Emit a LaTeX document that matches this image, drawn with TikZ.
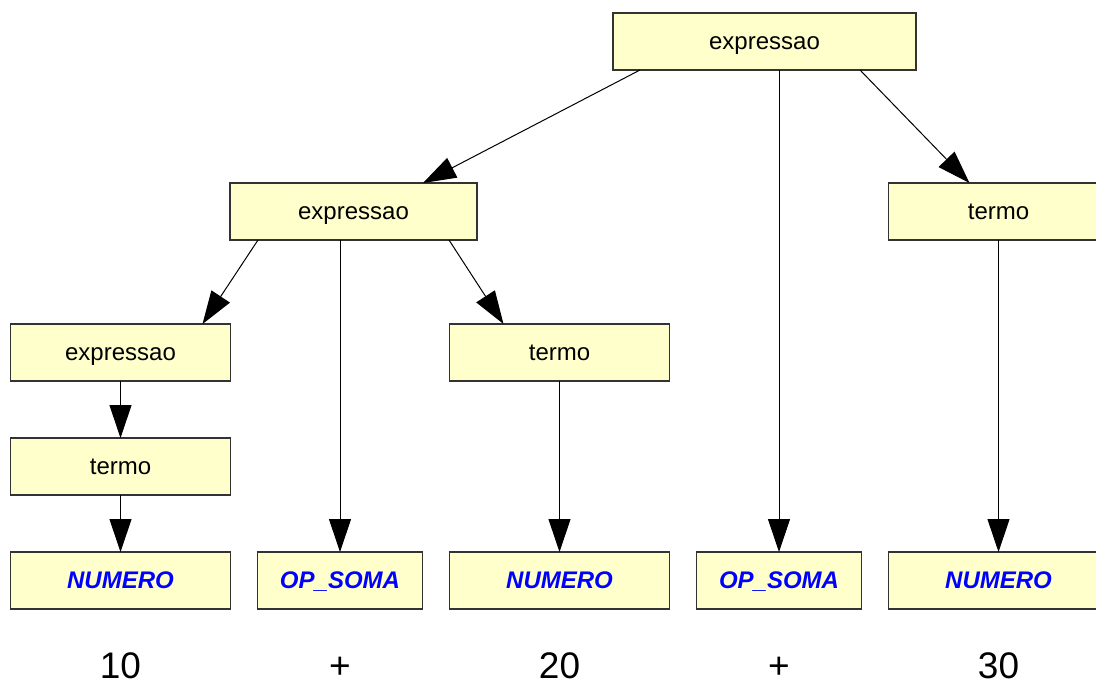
\documentclass[tikz,border=0pt]{standalone}
\usepackage{fontspec}
\setmainfont{Liberation Sans}
\usepackage{xcolor}
\usetikzlibrary{
  positioning,
  arrows.meta,
  calc
}
\definecolor{boxfill}{HTML}{FFFFCC}
\definecolor{tokenblue}{HTML}{0000FF}

\begin{document}
\begin{tikzpicture}[
  x=0.5pt, y=-0.5pt,
  node distance=28.5pt and 13.5pt,
  font=\fontsize{12}{14}\selectfont,
  rule/.style={
    draw=black!80,
    line width=0.6pt,
    fill=boxfill,
    minimum width=110pt,
    minimum height=28.5pt,
    inner sep=0pt,
    outer sep=0pt,
    text height=8.2pt,
    text depth=0pt,
    align=center
  },
  tokenbox/.style={
    rule,
    text=tokenblue,
    font=\fontsize{12}{14}\selectfont\bfseries\itshape
  },
  opbox/.style={
    tokenbox,
    minimum width=82.5pt
  },
  lexeme/.style={
    anchor=base,
    inner sep=0pt,
    font=\fontsize{18.5}{22}\selectfont
  },
  arrow/.style={-{Triangle[length=16.5pt,width=11pt]}, line width=0.5pt}
]
\useasboundingbox (0,0) rectangle (1096,682);

% Tokens
\node[tokenbox] (num1) at (120.5,580.5) {NUMERO};
\node[opbox, right=of num1] (op1) {OP\_SOMA};
\node[tokenbox, right=of op1] (num2) {NUMERO};
\node[opbox, right=of num2] (op2) {OP\_SOMA};
\node[tokenbox, right=of op2] (num3) {NUMERO};

% Rules
\node[rule, minimum width=151.5pt] (ex0) at (764.5,41.5) {expressao};
\node[rule, minimum width=123.5pt] (ex2) at (353.5,211.5) {expressao};
\node[rule] (tr) at (num3 |- ex2) {termo};
\node[rule, above=of num1] (tl) {termo};
\node[rule, above=of tl] (exl) {expressao};
\node[rule] (tm) at (num2 |- exl) {termo};

% Lexemes
\node[lexeme] (lx1) at (num1 |- 0,678) {10};
\node[lexeme] (lx2) at (op1 |- 0,678) {+};
\node[lexeme] (lx3) at (num2 |- 0,678) {20};
\node[lexeme] (lx4) at (op2 |- 0,678) {+};
\node[lexeme] (lx5) at (num3 |- 0,678) {30};

% Arrows
\draw[arrow] ($(ex0.south west)+(27,0)$) -- ($(ex2.north west)+(193,0)$);
\draw[arrow] (op2.north |- ex0.south) -- (op2.north);
\draw[arrow] ($(ex0.south west)+(247,0)$) -- ($(tr.north west)+(81,0)$);

\draw[arrow] ($(ex2.south west)+(28,0)$) -- ($(exl.north west)+(192,0)$);
\draw[arrow] (op1.north |- ex2.south) -- (op1.north);
\draw[arrow] ($(ex2.south west)+(219,0)$) -- ($(tm.north west)+(54,0)$);

\draw[arrow] (exl) -- (tl);
\draw[arrow] (tl) -- (num1);
\draw[arrow] (tm) -- (num2);
\draw[arrow] (tr) -- (num3);

\end{tikzpicture}
\end{document}
